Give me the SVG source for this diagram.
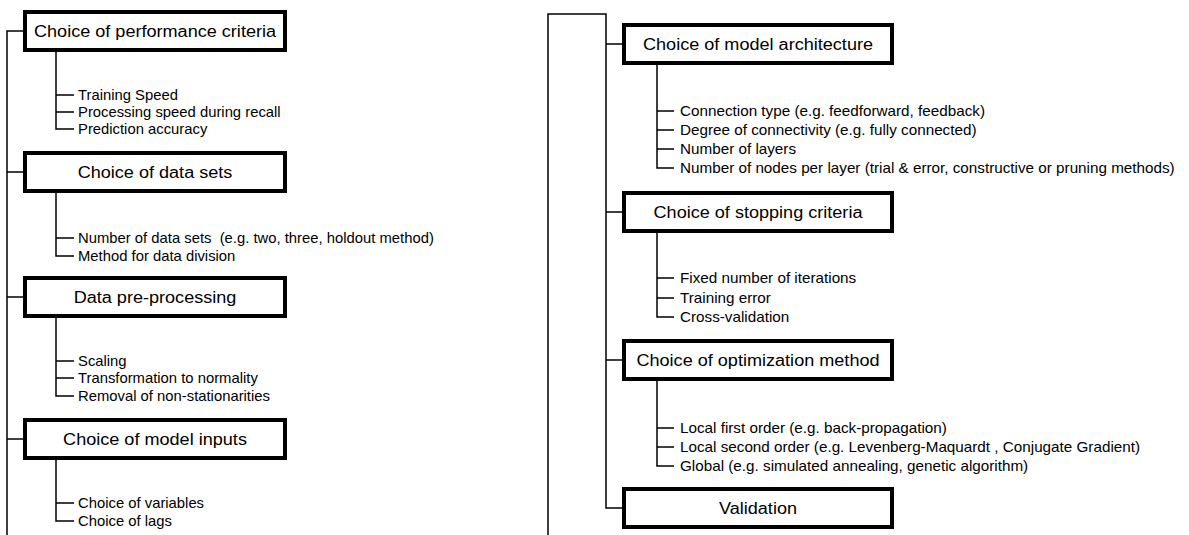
<svg xmlns="http://www.w3.org/2000/svg" width="1189" height="535" viewBox="0 0 1189 535">
<style>
.box{fill:#fff;stroke:#000;stroke-width:4}
.ln{fill:none;stroke:#000;stroke-width:1.5}
.bl{font-family:"Liberation Sans",Arial,sans-serif;font-size:16px;text-anchor:middle;fill:#000}
.it{font-family:"Liberation Sans",Arial,sans-serif;font-size:14px;fill:#000}
</style>
<rect width="1189" height="535" fill="#fff"/>
<g id="connectors">
<path class="ln" d="M23,31 H7 V535"/>
<path class="ln" d="M7,172 H23 M7,297 H23 M7,439 H23"/>
<path class="ln" d="M56,52 V129 H74 M56,95 H74 M56,112 H74"/>
<path class="ln" d="M56,193 V256 H74 M56,238 H74"/>
<path class="ln" d="M56,318 V396 H74 M56,361 H74 M56,378 H74"/>
<path class="ln" d="M56,460 V521 H74 M56,503 H74"/>
<path class="ln" d="M548,535 V14 H606 V508 H622"/>
<path class="ln" d="M606,44 H622 M606,212 H622 M606,360 H622"/>
<path class="ln" d="M657,65 V168 H674 M657,111 H674 M657,130 H674 M657,149 H674"/>
<path class="ln" d="M657,233 V317 H674 M657,278 H674 M657,298 H674"/>
<path class="ln" d="M657,381 V466 H674 M657,428 H674 M657,447 H674"/>
</g>
<g id="n1">
<rect class="box" x="25" y="12" width="260" height="38"/>
<text class="bl" transform="translate(155,37) scale(1.13,1)">Choice of performance criteria</text>
<text class="it" transform="translate(78,100) scale(1.06,1)">Training Speed</text>
<text class="it" transform="translate(78,117) scale(1.06,1)">Processing speed during recall</text>
<text class="it" transform="translate(78,134) scale(1.06,1)">Prediction accuracy</text>
</g>
<g id="n2">
<rect class="box" x="25" y="153" width="260" height="38"/>
<text class="bl" transform="translate(155,178) scale(1.13,1)">Choice of data sets</text>
<text class="it" transform="translate(78,243) scale(1.06,1)">Number of data sets&#160; (e.g. two, three, holdout method)</text>
<text class="it" transform="translate(78,261) scale(1.06,1)">Method for data division</text>
</g>
<g id="n3">
<rect class="box" x="25" y="278" width="260" height="38"/>
<text class="bl" transform="translate(155,303) scale(1.13,1)">Data pre-processing</text>
<text class="it" transform="translate(78,366) scale(1.06,1)">Scaling</text>
<text class="it" transform="translate(78,383) scale(1.06,1)">Transformation to normality</text>
<text class="it" transform="translate(78,401) scale(1.06,1)">Removal of non-stationarities</text>
</g>
<g id="n4">
<rect class="box" x="25" y="420" width="260" height="38"/>
<text class="bl" transform="translate(155,445) scale(1.13,1)">Choice of model inputs</text>
<text class="it" transform="translate(78,508) scale(1.06,1)">Choice of variables</text>
<text class="it" transform="translate(78,526) scale(1.06,1)">Choice of lags</text>
</g>
<g id="n5">
<rect class="box" x="624" y="25" width="268" height="38"/>
<text class="bl" transform="translate(758,50) scale(1.13,1)">Choice of model architecture</text>
<text class="it" transform="translate(680,116) scale(1.09,1)">Connection type (e.g. feedforward, feedback)</text>
<text class="it" transform="translate(680,135) scale(1.09,1)">Degree of connectivity (e.g. fully connected)</text>
<text class="it" transform="translate(680,154) scale(1.09,1)">Number of layers</text>
<text class="it" transform="translate(680,173) scale(1.09,1)">Number of nodes per layer (trial &amp; error, constructive or pruning methods)</text>
</g>
<g id="n6">
<rect class="box" x="624" y="193" width="268" height="38"/>
<text class="bl" transform="translate(758,218) scale(1.13,1)">Choice of stopping criteria</text>
<text class="it" transform="translate(680,283) scale(1.09,1)">Fixed number of iterations</text>
<text class="it" transform="translate(680,303) scale(1.09,1)">Training error</text>
<text class="it" transform="translate(680,322) scale(1.09,1)">Cross-validation</text>
</g>
<g id="n7">
<rect class="box" x="624" y="341" width="268" height="38"/>
<text class="bl" transform="translate(758,366) scale(1.13,1)">Choice of optimization method</text>
<text class="it" transform="translate(680,433) scale(1.09,1)">Local first order (e.g. back-propagation)</text>
<text class="it" transform="translate(680,452) scale(1.09,1)">Local second order (e.g. Levenberg-Maquardt , Conjugate Gradient)</text>
<text class="it" transform="translate(680,471) scale(1.09,1)">Global (e.g. simulated annealing, genetic algorithm)</text>
</g>
<g id="n8">
<rect class="box" x="624" y="489" width="268" height="38"/>
<text class="bl" transform="translate(758,514) scale(1.13,1)">Validation</text>
</g>
</svg>
